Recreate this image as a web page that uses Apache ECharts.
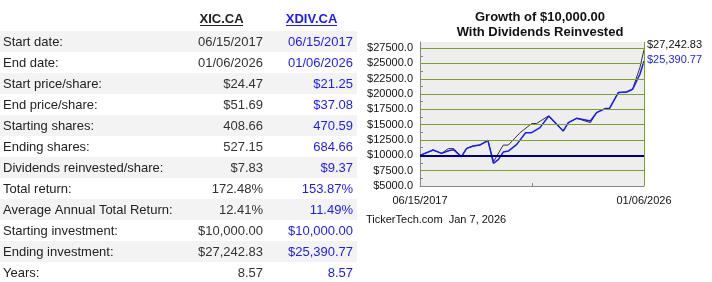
<!DOCTYPE html>
<html><head><meta charset="utf-8">
<script src="https://cdn.jsdelivr.net/npm/echarts@6/dist/echarts.min.js"></script>
<style>html,body{margin:0;padding:0;background:#fff}#c{width:712px;height:282px}</style>
</head><body><div id="c"></div>
<script>
// ---- table data ----
const headers = ['XIC.CA', 'XDIV.CA'];
const rowLabels = ['Start date:', 'End date:', 'Start price/share:', 'End price/share:', 'Starting shares:', 'Ending shares:', 'Dividends reinvested/share:', 'Total return:', 'Average Annual Total Return:', 'Starting investment:', 'Ending investment:', 'Years:'];
const xicVals = ['06/15/2017', '01/06/2026', '$24.47', '$51.69', '408.66', '527.15', '$7.83', '172.48%', '12.41%', '$10,000.00', '$27,242.83', '8.57'];
const xdivVals = ['06/15/2017', '01/06/2026', '$21.25', '$37.08', '470.59', '684.66', '$9.37', '153.87%', '11.49%', '$10,000.00', '$25,390.77', '8.57'];

// ---- chart data ----
const titleLines = ['Growth of $10,000.00', 'With Dividends Reinvested'];
const footer = 'TickerTech.com  Jan 7, 2026';
const yTicks = [5000, 7500, 10000, 12500, 15000, 17500, 20000, 22500, 25000, 27500];
const baseline = 10000;
const xicSeries = [
  ['2017-06-15', 10000], ['2017-12-15', 10870], ['2018-04-12', 10330], ['2018-07-15', 11100],
  ['2018-09-30', 11100], ['2019-01-15', 9780], ['2019-03-28', 11140], ['2019-06-28', 11520],
  ['2019-10-01', 11700], ['2020-01-20', 12340], ['2020-04-08', 9000], ['2020-08-20', 11680],
  ['2020-10-30', 11680], ['2021-04-12', 13700], ['2021-09-20', 15180], ['2021-11-28', 15200],
  ['2022-05-10', 16420], ['2022-12-05', 13970], ['2023-02-15', 15340], ['2023-06-10', 16050],
  ['2023-12-20', 15340], ['2024-03-15', 16980], ['2024-07-12', 17630], ['2024-09-10', 17630],
  ['2025-01-12', 20240], ['2025-05-08', 20340], ['2025-07-30', 20780], ['2025-11-10', 24330],
  ['2026-01-06', 27242.83]
];
const xdivSeries = [
  ['2017-06-15', 10000], ['2017-12-15', 10870], ['2018-04-12', 10330], ['2018-07-30', 10800],
  ['2018-09-30', 10900], ['2019-01-15', 9780], ['2019-03-28', 11140], ['2019-06-28', 11520],
  ['2019-10-01', 11700], ['2020-01-20', 12450], ['2020-04-05', 8700], ['2020-06-15', 9350],
  ['2020-08-20', 10540], ['2020-10-30', 10700], ['2021-02-25', 11800], ['2021-06-28', 13700],
  ['2021-09-20', 13700], ['2022-01-15', 14530], ['2022-05-18', 16420], ['2022-12-05', 13970],
  ['2023-02-15', 15340], ['2023-06-10', 16050], ['2023-12-20', 15600], ['2024-03-15', 16980],
  ['2024-07-12', 17630], ['2024-09-10', 17630], ['2025-01-12', 20240], ['2025-05-08', 20340],
  ['2025-07-30', 20780], ['2025-11-10', 23240], ['2026-01-06', 25390.77]
];

const FONT = '"Liberation Sans", Arial, Helvetica, sans-serif';
const BLUE = '#1a1aff';
const GREEN = '#7da02a';

function money(v) {
  const p = v.toFixed(2).split('.');
  return '$' + p[0].replace(/\B(?=(\d{3})+(?!\d))/g, ',') + '.' + p[1];
}
const ts = d => echarts.number.parseDate(d).getTime();
const xicData = xicSeries.map(p => [ts(p[0]), p[1]]);
const xdivData = xdivSeries.map(p => [ts(p[0]), p[1]]);
const tStart = xicData[0][0];
const tEnd = xicData[xicData.length - 1][0];

// ---- table graphics ----
const graphics = [];
const rowTop = 31, rowH = 21;
rowLabels.forEach((lab, i) => {
  const y = rowTop + i * rowH;
  if (i % 2 === 0) {
    graphics.push({ type: 'rect', shape: { x: 0, y: y, width: 357, height: rowH }, style: { fill: '#f3f3f3' }, z: 0, silent: true });
  }
  const cy = y + rowH / 2 + 0.5;
  graphics.push({ type: 'text', z: 2, silent: true, style: { x: 3, y: cy, text: lab, fill: '#222', font: '13px ' + FONT, textAlign: 'left', textVerticalAlign: 'middle' } });
  graphics.push({ type: 'text', z: 2, silent: true, style: { x: 263, y: cy, text: xicVals[i], fill: '#333', font: '13px ' + FONT, textAlign: 'right', textVerticalAlign: 'middle' } });
  graphics.push({ type: 'text', z: 2, silent: true, style: { x: 353, y: cy, text: xdivVals[i], fill: BLUE, font: '13px ' + FONT, textAlign: 'right', textVerticalAlign: 'middle' } });
});
const hdrX = [221.5, 311.5], hdrW = [43, 51], hdrC = ['#222', BLUE];
headers.forEach((h, i) => {
  graphics.push({ type: 'text', z: 2, silent: true, style: { x: hdrX[i], y: 19.5, text: h, fill: hdrC[i], font: 'bold 13px ' + FONT, textAlign: 'center', textVerticalAlign: 'middle' } });
  graphics.push({ type: 'line', z: 2, silent: true, shape: { x1: hdrX[i] - hdrW[i] / 2, y1: 25.5, x2: hdrX[i] + hdrW[i] / 2, y2: 25.5 }, style: { stroke: hdrC[i], lineWidth: 1 } });
});
titleLines.forEach((t, i) => {
  graphics.push({ type: 'text', z: 2, silent: true, style: { x: 540, y: 17 + i * 15, text: t, fill: '#111', font: 'bold 13px ' + FONT, textAlign: 'center', textVerticalAlign: 'middle' } });
});
graphics.push({ type: 'text', z: 2, silent: true, style: { x: 366, y: 220, text: footer, fill: '#111', font: '11px ' + FONT, textAlign: 'left', textVerticalAlign: 'middle' } });

const chart = echarts.init(document.getElementById('c'), null, { renderer: 'canvas' });
chart.setOption({
  animation: false,
  backgroundColor: '#fff',
  graphic: graphics,
  grid: { left: 420, top: 42, width: 224, height: 144, show: true, backgroundColor: '#eeeeee', borderWidth: 0 },
  xAxis: {
    type: 'value', min: tStart, max: tEnd, scale: true,
    splitLine: { show: false },
    axisLine: { show: true, lineStyle: { color: '#888', width: 1 } },
    axisTick: { show: true, inside: true, length: 3, lineStyle: { color: '#888' }, customValues: [(tStart + tEnd) / 2] },
    axisLabel: {
      customValues: [tStart, tEnd], margin: 9, color: '#111', fontSize: 11, fontFamily: FONT,
      formatter: v => echarts.time.format(v, '{MM}/{dd}/{yyyy}', false)
    }
  },
  yAxis: {
    type: 'value', min: yTicks[0], max: 28500, interval: 2500,
    splitLine: { show: false },
    axisLine: { show: true, lineStyle: { color: '#888', width: 1 } },
    axisTick: { show: false, inside: true },
    minorTick: { show: true, splitNumber: 2, length: 3, lineStyle: { color: '#888' } },
    axisLabel: { margin: 7, color: '#111', fontSize: 11, fontFamily: FONT, showMaxLabel: false, formatter: v => '$' + v.toFixed(1) }
  },
  series: [
    {
      type: 'line', name: 'grid', data: [], z: 1, silent: true,
      markLine: {
        silent: true, symbol: 'none', label: { show: false },
        lineStyle: { color: GREEN, width: 1, type: 'solid' },
        data: yTicks.filter(v => v > yTicks[0]).map(v => ({ yAxis: v })).concat([{ xAxis: tEnd }])
      }
    },
    {
      type: 'line', name: 'XIC.CA', data: xicData, z: 3, symbol: 'none', silent: true,
      lineStyle: { color: '#333', width: 1 },
      endLabel: { show: true, formatter: p => money(p.value[1]), color: '#111', fontSize: 11, fontFamily: FONT, distance: 3, offset: [0, -5] }
    },
    {
      type: 'line', name: 'XDIV.CA', data: xdivData, z: 4, symbol: 'none', silent: true,
      lineStyle: { color: BLUE, width: 1.5 },
      endLabel: { show: true, formatter: p => money(p.value[1]), color: BLUE, fontSize: 11, fontFamily: FONT, distance: 3, offset: [0, -1] }
    },
    {
      type: 'line', name: 'base', data: [], z: 5, silent: true,
      markLine: {
        silent: true, symbol: 'none', label: { show: false },
        lineStyle: { color: '#000080', width: 2, type: 'solid' },
        data: [{ yAxis: baseline }]
      }
    }
  ]
});
</script></body></html>
